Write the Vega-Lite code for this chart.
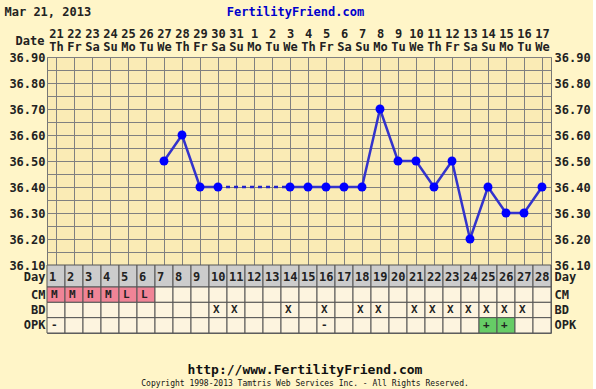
{
  "$schema": "https://vega.github.io/schema/vega-lite/v6.json",
  "background": "#FFF5C8",
  "padding": {"left": 3, "top": 4, "right": 2, "bottom": 2},
  "spacing": 0,
  "bounds": "flush",
  "config": {
    "font": "DejaVu Sans Mono",
    "view": {"stroke": "#666666"},
    "axis": {
      "labelFont": "DejaVu Sans Mono",
      "labelFontWeight": "bold",
      "labelFontSize": 12,
      "labelColor": "#222222",
      "titleFont": "DejaVu Sans Mono",
      "titleFontWeight": "bold",
      "titleFontSize": 12,
      "titleColor": "#222222",
      "domain": false,
      "ticks": false,
      "gridColor": "#808080",
      "gridOpacity": 1,
      "gridWidth": 1,
      "labelOverlap": false,
      "labelFlush": false
    },
    "title": {"font": "DejaVu Sans Mono", "fontWeight": "bold", "color": "#111111"}
  },
  "datasets": {
    "cycle": [
      {"day": 1, "temp": null, "CM": "M", "BD": "", "OPK": "-"},
      {"day": 2, "temp": null, "CM": "M", "BD": "", "OPK": ""},
      {"day": 3, "temp": null, "CM": "H", "BD": "", "OPK": ""},
      {"day": 4, "temp": null, "CM": "M", "BD": "", "OPK": ""},
      {"day": 5, "temp": null, "CM": "L", "BD": "", "OPK": ""},
      {"day": 6, "temp": null, "CM": "L", "BD": "", "OPK": ""},
      {"day": 7, "temp": 36.5, "CM": "", "BD": "", "OPK": ""},
      {"day": 8, "temp": 36.6, "CM": "", "BD": "", "OPK": ""},
      {"day": 9, "temp": 36.4, "CM": "", "BD": "", "OPK": ""},
      {"day": 10, "temp": 36.4, "CM": "", "BD": "X", "OPK": ""},
      {"day": 11, "temp": null, "CM": "", "BD": "X", "OPK": ""},
      {"day": 12, "temp": null, "CM": "", "BD": "", "OPK": ""},
      {"day": 13, "temp": null, "CM": "", "BD": "", "OPK": ""},
      {"day": 14, "temp": 36.4, "CM": "", "BD": "X", "OPK": ""},
      {"day": 15, "temp": 36.4, "CM": "", "BD": "", "OPK": ""},
      {"day": 16, "temp": 36.4, "CM": "", "BD": "X", "OPK": "-"},
      {"day": 17, "temp": 36.4, "CM": "", "BD": "", "OPK": ""},
      {"day": 18, "temp": 36.4, "CM": "", "BD": "X", "OPK": ""},
      {"day": 19, "temp": 36.7, "CM": "", "BD": "X", "OPK": ""},
      {"day": 20, "temp": 36.5, "CM": "", "BD": "", "OPK": ""},
      {"day": 21, "temp": 36.5, "CM": "", "BD": "X", "OPK": ""},
      {"day": 22, "temp": 36.4, "CM": "", "BD": "X", "OPK": ""},
      {"day": 23, "temp": 36.5, "CM": "", "BD": "X", "OPK": ""},
      {"day": 24, "temp": 36.2, "CM": "", "BD": "X", "OPK": ""},
      {"day": 25, "temp": 36.4, "CM": "", "BD": "X", "OPK": "+"},
      {"day": 26, "temp": 36.3, "CM": "", "BD": "X", "OPK": "+"},
      {"day": 27, "temp": 36.3, "CM": "", "BD": "X", "OPK": ""},
      {"day": 28, "temp": 36.4, "CM": "", "BD": "", "OPK": ""}
    ]
  },
  "vconcat": [
    {
      "width": 504,
      "height": 208,
      "view": {"fill": "#FAEBB5", "stroke": "#777777"},
      "data": {"name": "cycle"},
      "layer": [
        {
          "mark": {"type": "line", "color": "#3333CC", "strokeWidth": 2.5},
          "encoding": {
            "x": {
              "field": "day", "type": "ordinal",
              "scale": {"domain": [1,2,3,4,5,6,7,8,9,10,11,12,13,14,15,16,17,18,19,20,21,22,23,24,25,26,27,28], "paddingInner": 0, "paddingOuter": 0},
              "axis": {
                "orient": "top", "grid": false, "labelAngle": 0, "labelAlign": "center", "labelBaseline": "bottom",
                "labelLineHeight": 13, "labelPadding": 17,
                "labelExpr": "[['21','22','23','24','25','26','27','28','29','30','31','1','2','3','4','5','6','7','8','9','10','11','12','13','14','15','16','17'][datum.value-1], ['Th','Fr','Sa','Su','Mo','Tu','We'][(datum.value-1)%7]]",
                "title": "Mar 21, 2013", "titleX": -43, "titleY": -42, "titleAlign": "left", "titleBaseline": "alphabetic", "titleAngle": 0
              }
            },
            "y": {
              "field": "temp", "type": "quantitative",
              "scale": {"domain": [36.1, 36.9], "nice": false, "zero": false},
              "axis": {
                "orient": "left", "grid": true, "labelPadding": 2,
                "values": [36.1,36.15,36.2,36.25,36.3,36.35,36.4,36.45,36.5,36.55,36.6,36.65,36.7,36.75,36.8,36.85,36.9],
                "labelExpr": "round(datum.value*100)%10==0 ? format(datum.value,'.2f') : ''",
                "title": "Date", "titleAngle": 0, "titleX": -3, "titleY": -17, "titleAlign": "right", "titleBaseline": "middle"
              }
            }
          }
        },
        {
          "transform": [{"filter": "datum.day==10 || datum.day==14"}],
          "mark": {"type": "line", "color": "#2222CC", "strokeWidth": 2.5, "strokeDash": [4, 4]},
          "encoding": {
            "x": {"field": "day", "type": "ordinal", "axis": {"orient": "bottom", "grid": true, "bandPosition": 0, "labels": false, "title": null}},
            "y": {"field": "temp", "type": "quantitative", "axis": null}
          }
        },
        {
          "mark": {"type": "point", "filled": true, "size": 80, "color": "#0000FF", "opacity": 1},
          "encoding": {
            "x": {"field": "day", "type": "ordinal", "axis": null},
            "y": {
              "field": "temp", "type": "quantitative",
              "axis": {
                "orient": "right", "grid": false, "labelPadding": 3,
                "values": [36.1,36.2,36.3,36.4,36.5,36.6,36.7,36.8,36.9],
                "format": ".2f",
                "title": "FertilityFriend.com", "titleColor": "#0000CC", "titleAngle": 0, "titleX": -256, "titleY": -42, "titleAlign": "center", "titleBaseline": "alphabetic"
              }
            }
          }
        }
      ],
      "resolve": {"axis": {"x": "independent", "y": "independent"}}
    },
    {
      "width": 504,
      "height": 22,
      "data": {"name": "cycle"},
      "layer": [
        {
          "mark": {"type": "rect", "fill": "#CCCCCC", "stroke": "#555555", "strokeWidth": 1},
          "encoding": {
            "x": {"field": "day", "type": "ordinal", "scale": {"paddingInner": 0, "paddingOuter": 0}, "axis": null},
            "y": {"datum": "Day", "type": "nominal", "scale": {"domain": ["Day"], "paddingInner": 0, "paddingOuter": 0}, "axis": {"orient": "left", "title": null, "labelPadding": 2, "labelOffset": 1}}
          }
        },
        {
          "mark": {"type": "text", "align": "left", "dx": 2, "dy": 1, "fontWeight": "bold", "fontSize": 12, "color": "#222222"},
          "encoding": {
            "x": {"field": "day", "type": "ordinal", "bandPosition": 0, "axis": null},
            "y": {"datum": "Day", "type": "nominal", "axis": {"orient": "right", "title": null, "labelPadding": 3, "labelOffset": 1}},
            "text": {"field": "day"}
          }
        }
      ],
      "resolve": {"axis": {"y": "independent"}}
    },
    {
      "width": 504,
      "height": 46,
      "data": {"name": "cycle"},
      "transform": [{"fold": ["CM", "BD", "OPK"], "as": ["row", "val"]}],
      "layer": [
        {
          "mark": {"type": "rect", "stroke": "#555555", "strokeWidth": 1},
          "encoding": {
            "x": {"field": "day", "type": "ordinal", "scale": {"paddingInner": 0, "paddingOuter": 0}, "axis": null},
            "y": {"field": "row", "type": "nominal", "scale": {"domain": ["CM", "BD", "OPK"], "paddingInner": 0, "paddingOuter": 0}, "axis": {"orient": "left", "title": null, "labelPadding": 2}},
            "fill": {
              "condition": [
                {"test": "datum.row=='CM' && datum.val!=''", "value": "#F08496"},
                {"test": "datum.val=='+'", "value": "#66CC66"}
              ],
              "value": "#FDF4DF"
            }
          }
        },
        {
          "mark": {"type": "text", "align": "left", "dx": 4, "fontWeight": "bold", "fontSize": 11, "color": "#222222"},
          "encoding": {
            "x": {"field": "day", "type": "ordinal", "bandPosition": 0, "axis": null},
            "y": {"field": "row", "type": "nominal", "axis": {"orient": "right", "title": null, "labelPadding": 3}},
            "text": {"field": "val"}
          }
        }
      ],
      "resolve": {"axis": {"y": "independent"}},
      "title": {
        "text": "http://www.FertilityFriend.com",
        "subtitle": "Copyright 1998-2013 Tamtris Web Services Inc. - All Rights Reserved.",
        "orient": "bottom", "anchor": "middle", "frame": "group",
        "fontSize": 13, "offset": 30, "dx": 6,
        "subtitleFont": "DejaVu Sans Mono", "subtitleFontSize": 8, "subtitleColor": "#111111", "subtitlePadding": 3
      }
    }
  ]
}
